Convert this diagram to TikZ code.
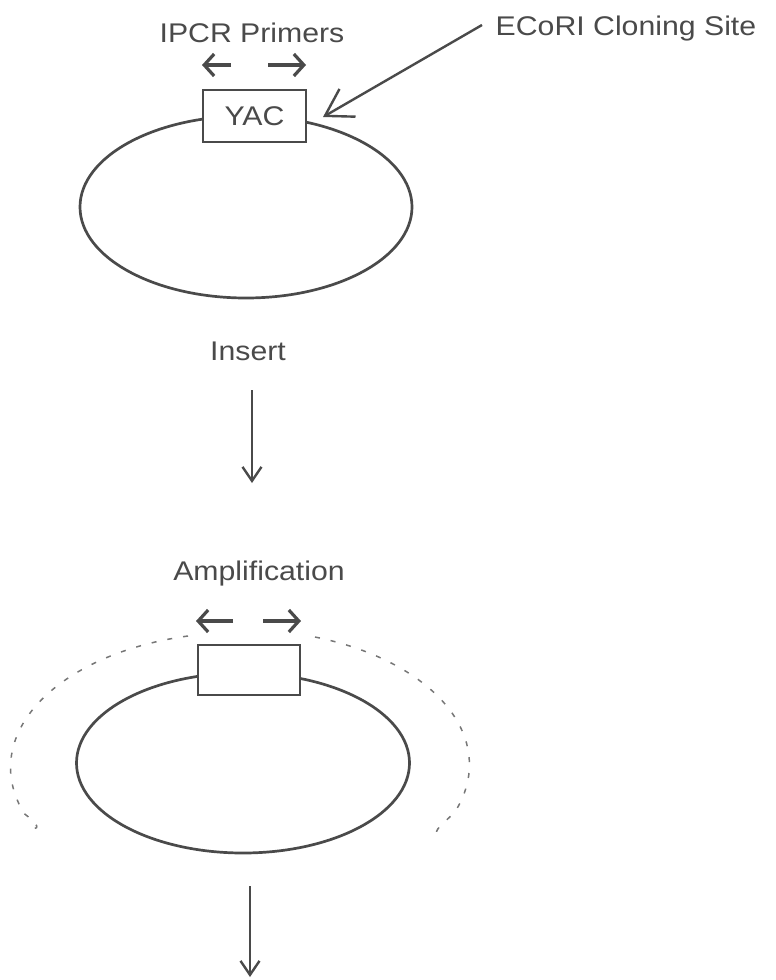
\documentclass[tikz,border=0pt]{standalone}
\usepackage{fontspec}
\setmainfont{Liberation Sans}
\usetikzlibrary{arrows.meta,shapes.geometric}
\definecolor{ink}{HTML}{4A4A4A}
\definecolor{dashink}{HTML}{777777}
\newcommand\wtxt[1]{\scalebox{1.12}[1]{\fontsize{27}{32}\selectfont #1}}
\tikzset{
  lbl/.style={text=ink, inner sep=0pt, anchor=base},
  plasmid/.style={ellipse, draw=ink, line width=2.7pt, inner sep=0pt},
  insertbox/.style={rectangle, draw=ink, fill=white, line width=2.6pt, inner sep=0pt, text=ink},
  primer/.style={draw=ink, line width=3.2pt, -{Straight Barb[length=10pt,width=22pt,line width=3.2pt]}},
  flow/.style={draw=ink, line width=2.4pt, -{Straight Barb[length=14pt,width=19pt,line width=2.4pt]}},
  pointer/.style={draw=ink, line width=2.4pt, -{Straight Barb[length=26pt,width=32pt,line width=2.4pt]}},
  ampl/.style={draw=dashink, line width=1.5pt, dash pattern=on 5pt off 11pt},
}
\begin{document}
\begin{tikzpicture}[x=1pt,y=-1pt]
\useasboundingbox (0,0) rectangle (776,980);

% ---------- top plasmid ----------
\node[plasmid, minimum width=332pt, minimum height=182pt] (p1) at (246,207) {};
\node[insertbox, minimum width=103pt, minimum height=52pt] (yac) at (254.5,116) {\wtxt{YAC}};
\node[lbl] (ipcr) at (252,42) {\wtxt{IPCR Primers}};
\node[lbl] (ecori) at (626,35) {\wtxt{ECoRI Cloning Site}};

\coordinate (pl1s) at (231,65); \coordinate (pl1e) at (202,65);
\coordinate (pr1s) at (268,65); \coordinate (pr1e) at (306,65);
\draw[primer] (pl1s) -- (pl1e);
\draw[primer] (pr1s) -- (pr1e);

\coordinate (sitetail) at (482,25);
\coordinate (site) at (323,117);
\draw[pointer] (sitetail) -- (site);

% ---------- insert step ----------
\node[lbl] (ins) at (248,360) {\wtxt{Insert}};
\coordinate (a1s) at (252,390); \coordinate (a1e) at (252,483);
\draw[flow] (a1s) -- (a1e);

% ---------- amplification ----------
\node[lbl] (amp) at (259,580) {\wtxt{Amplification}};
\node[plasmid, minimum width=333pt, minimum height=180pt] (p2) at (243,763) {};
\node[insertbox, minimum width=102pt, minimum height=50pt] (box2) at (249,670) {};

\coordinate (pl2s) at (233,621); \coordinate (pl2e) at (196,621);
\coordinate (pr2s) at (263,621); \coordinate (pr2e) at (301,621);
\draw[primer] (pl2s) -- (pl2e);
\draw[primer] (pr2s) -- (pr2e);

% dashed amplification arcs
\draw[ampl] (188,636) arc[start angle=103, end angle=200, x radius=229pt, y radius=135pt]
  .. controls (38,824) and (44,832) .. (24,827);
\draw[ampl] (315,637) arc[start angle=71, end angle=-20, x radius=229pt, y radius=135pt]
  .. controls (444,824) and (432,830) .. (438,836);

% ---------- final arrow ----------
\coordinate (a2s) at (250,886); \coordinate (a2e) at (250,977);
\draw[flow] (a2s) -- (a2e);
\end{tikzpicture}
\end{document}
